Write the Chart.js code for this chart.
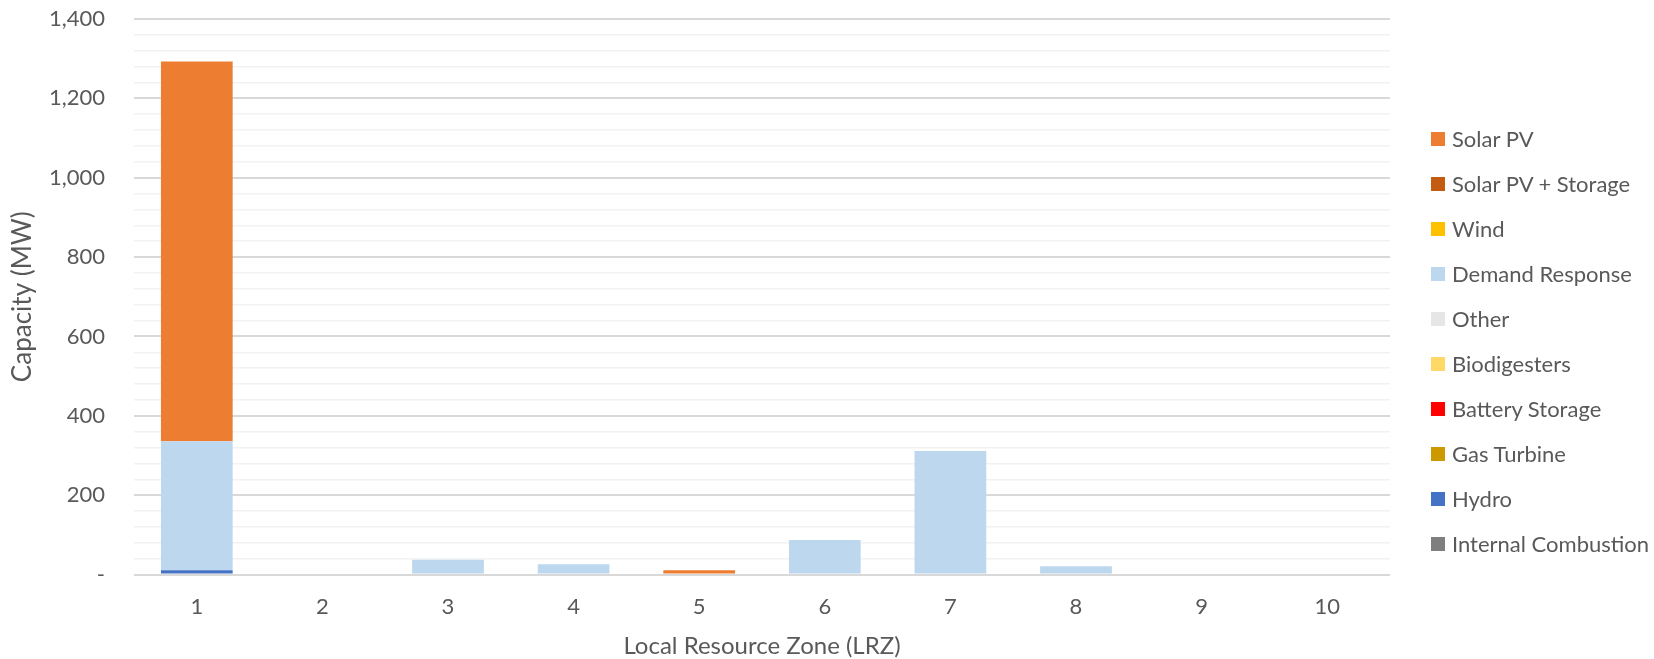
<!DOCTYPE html>
<html>
<head>
<meta charset="utf-8">
<script src="https://cdn.jsdelivr.net/npm/chart.js@4/dist/chart.umd.min.js"></script>
<style>
  html, body { margin: 0; padding: 0; background: #ffffff; }
  #wrap { position: relative; width: 1654px; height: 659px; }
  #legend { position: absolute; left: 1431px; top: 0; font-family: Lato, "Open Sans", sans-serif; font-size: 22px; color: #595959; }
  .item { position: absolute; left: 0; height: 26px; line-height: 26px; white-space: nowrap; transform: translateY(-13px); }
  .swatch { position: absolute; left: 0; top: 6px; width: 14px; height: 14px; }
  .lbl { position: absolute; left: 21px; top: 0; }
</style>
</head>
<body>
<div id="wrap">
  <canvas id="chart" width="1654" height="659"></canvas>
  <div id="legend"></div>
</div>
<script>
// Local resource zones on the category axis
const zones = ['1', '2', '3', '4', '5', '6', '7', '8', '9', '10'];

// Capacity (MW) by resource type, per zone
const internalCombustion = [0, 0, 0, 0, 0, 0, 0, 0, 0, 0];
const hydro              = [11, 0, 0, 0, 0, 0, 0, 0, 0, 0];
const gasTurbine         = [0, 0, 0, 0, 0, 0, 0, 0, 0, 0];
const batteryStorage     = [0, 0, 0, 0, 0, 0, 0, 0, 0, 0];
const biodigesters       = [0, 0, 0, 0, 0, 0, 0, 0, 0, 0];
const other              = [0, 0, 0, 0, 0, 0, 0, 0, 0, 0];
const demandResponse     = [325, 0, 37, 26, 0, 87, 311, 21, 0, 0];
const wind               = [0, 0, 0, 0, 0, 0, 0, 0, 0, 0];
const solarPvStorage     = [0, 0, 0, 0, 0, 0, 0, 0, 0, 0];
const solarPv            = [957, 0, 0, 0, 11, 0, 0, 0, 0, 0];

// Value axis ticks
const yMax = 1400;
const yMajorStep = 200;
const yMinorStep = 40;

// Stack order: first series sits at the bottom of each bar
const series = [
  { label: 'Internal Combustion', data: internalCombustion, color: '#7F7F7F' },
  { label: 'Hydro',               data: hydro,              color: '#4472C4' },
  { label: 'Gas Turbine',         data: gasTurbine,         color: '#CC9900' },
  { label: 'Battery Storage',     data: batteryStorage,     color: '#FF0000' },
  { label: 'Biodigesters',        data: biodigesters,       color: '#FFD966' },
  { label: 'Other',               data: other,              color: '#E7E6E6' },
  { label: 'Demand Response',     data: demandResponse,     color: '#BDD7EE' },
  { label: 'Wind',                data: wind,               color: '#FFC000' },
  { label: 'Solar PV + Storage',  data: solarPvStorage,     color: '#C55A11' },
  { label: 'Solar PV',            data: solarPv,            color: '#ED7D31' }
];

const FONT = 'Lato, "Open Sans", sans-serif';
const TEXT = '#595959';

const chart = new Chart(document.getElementById('chart'), {
  type: 'bar',
  data: {
    labels: zones,
    datasets: series.map(s => ({
      label: s.label,
      data: s.data,
      backgroundColor: s.color,
      borderWidth: 0,
      barPercentage: 0.571,
      categoryPercentage: 1
    }))
  },
  options: {
    responsive: false,
    animation: false,
    layout: { padding: { top: 19, right: 264, left: 0, bottom: 0 } },
    plugins: {
      legend: { display: false },
      tooltip: { enabled: false }
    },
    scales: {
      x: {
        stacked: true,
        grid: { display: false },
        border: { display: false },
        ticks: { color: TEXT, font: { family: FONT, size: 22 }, padding: 11 },
        title: {
          display: true,
          text: 'Local Resource Zone (LRZ)',
          color: TEXT,
          font: { family: FONT, size: 24, lineHeight: 1.05 },
          padding: { top: 0, bottom: 0 }
        },
        afterFit: scale => { scale.height = 84.5; }
      },
      y: {
        stacked: true,
        min: 0,
        max: yMax,
        border: { display: false },
        grid: {
          drawTicks: false,
          color: ctx => (ctx.tick && ctx.tick.value % yMajorStep === 0) ? '#D9D9D9' : '#F2F2F2',
          lineWidth: ctx => (ctx.tick && ctx.tick.value % yMajorStep === 0) ? 2 : 1.5
        },
        ticks: {
          stepSize: yMinorStep,
          autoSkip: false,
          color: TEXT,
          font: { family: FONT, size: 22 },
          padding: 29,
          callback: v => {
            if (v % yMajorStep !== 0) return '';
            return v === 0 ? '-' : v.toLocaleString('en-US');
          }
        },
        title: {
          display: true,
          text: 'Capacity (MW)',
          color: TEXT,
          font: { family: FONT, size: 26 },
          padding: { top: 7, bottom: 0 }
        },
        afterFit: scale => {
          scale.width = 134;
          // tick labels fit inside the outer padding, no extra room needed
          scale.paddingTop = 0;
          scale.paddingBottom = 0;
        }
      }
    }
  }
});

// Legend column: top series listed first
const legend = document.getElementById('legend');
series.slice().reverse().forEach((s, i) => {
  const item = document.createElement('div');
  item.className = 'item';
  item.style.top = (139 + i * 45) + 'px';
  const sw = document.createElement('span');
  sw.className = 'swatch';
  sw.style.background = s.color;
  const tx = document.createElement('span');
  tx.className = 'lbl';
  tx.textContent = s.label;
  item.appendChild(sw);
  item.appendChild(tx);
  legend.appendChild(item);
});
</script>
</body>
</html>
